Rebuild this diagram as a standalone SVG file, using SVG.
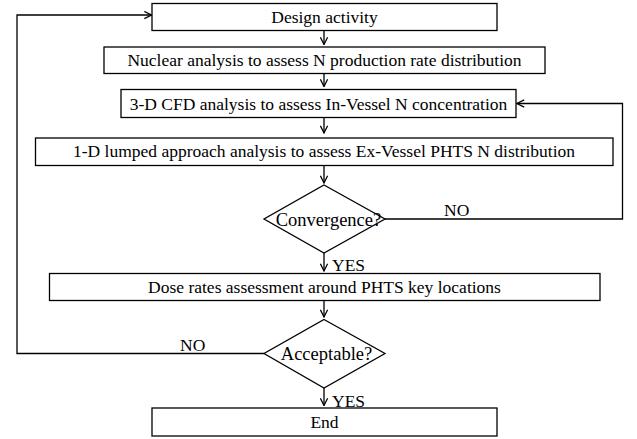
<svg xmlns="http://www.w3.org/2000/svg" width="637" height="439" viewBox="0 0 637 439">
<defs>
<marker id="arr" viewBox="0 0 10 10" refX="9" refY="5" markerWidth="9" markerHeight="9" markerUnits="userSpaceOnUse" orient="auto">
<path d="M1,1 L9,5 L1,9" fill="none" stroke="#000" stroke-width="1.4"/>
</marker>
<style>
.box{fill:#fff;stroke:#000;stroke-width:1.3}
.t{font-family:"Liberation Serif","Times New Roman",serif;font-size:17.5px;fill:#000;text-anchor:middle}
.d{font-size:18.5px}
.l{font-family:"Liberation Serif","Times New Roman",serif;font-size:17.5px;fill:#000}
.c{fill:none;stroke:#000;stroke-width:1.3;marker-end:url(#arr)}
</style>
</defs>
<rect width="637" height="439" fill="#fff"/>
<g id="connectors">
<line class="c" x1="324" y1="30.5" x2="324" y2="44.5"/>
<line class="c" x1="324" y1="73.5" x2="324" y2="86.5"/>
<line class="c" x1="324" y1="117.5" x2="324" y2="133"/>
<line class="c" x1="324" y1="165.5" x2="324" y2="183"/>
<line class="c" x1="324" y1="253" x2="324" y2="271"/>
<line class="c" x1="324" y1="300.5" x2="324" y2="317"/>
<line class="c" x1="324" y1="388" x2="324" y2="405.5"/>
<polyline class="c" points="385,219 622.5,219 622.5,103.5 517,103.5"/>
<polyline class="c" points="264,353.5 17,353.5 17,15 151.5,15"/>
<text class="l" x="444" y="215.5">NO</text>
<text class="l" x="180" y="351">NO</text>
<text class="l" x="332" y="270.5">YES</text>
<text class="l" x="332" y="406.5">YES</text>
</g>
<g id="n1"><rect class="box" x="152" y="3.5" width="345" height="27"/><text class="t" x="324.5" y="23">Design activity</text></g>
<g id="n2"><rect class="box" x="104" y="47" width="441" height="26.5"/><text class="t" x="324.5" y="65.5">Nuclear analysis to assess N production rate distribution</text></g>
<g id="n3"><rect class="box" x="121" y="89.5" width="395" height="28"/><text class="t" x="318.5" y="109.5">3-D CFD analysis to assess In-Vessel N concentration</text></g>
<g id="n4"><rect class="box" x="35.5" y="138" width="577.5" height="27.5"/><text class="t" x="324" y="157">1-D lumped approach analysis to assess Ex-Vessel PHTS N distribution</text></g>
<g id="n5"><polygon class="box" points="324,185 385,219 324,253 264,219"/><text class="t d" x="328.5" y="225.5">Convergence?</text></g>
<g id="n6"><rect class="box" x="49.5" y="273.5" width="550.5" height="27"/><text class="t" x="324.5" y="293">Dose rates assessment around PHTS key locations</text></g>
<g id="n7"><polygon class="box" points="324,319.5 385,353.5 324,388 264,353.5"/><text class="t d" x="326.5" y="360">Acceptable?</text></g>
<g id="n8"><rect class="box" x="152" y="408" width="345" height="28"/><text class="t" x="324.5" y="428">End</text></g>
</svg>
